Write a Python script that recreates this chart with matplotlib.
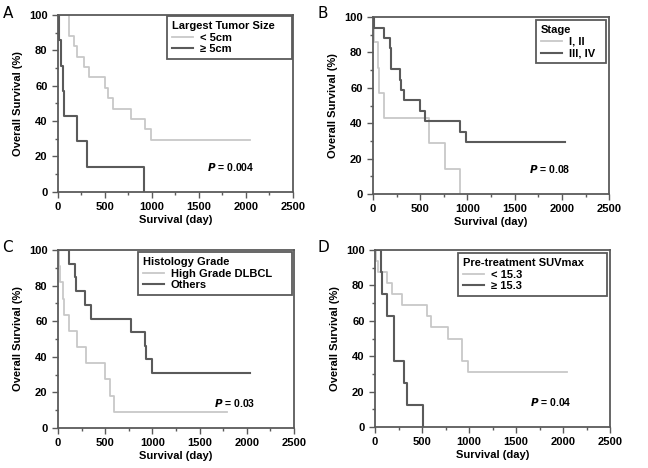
import matplotlib.pyplot as plt
from matplotlib.ticker import MultipleLocator

plt.rcParams['font.family'] = ['Liberation Sans', 'DejaVu Sans']
plt.rcParams['font.weight'] = 'bold'

LIGHT = '#c8c8c8'
DARK = '#5a5a5a'

# ----- panel A : largest tumor size
a_small_t = [0, 117, 170, 198, 276, 333, 503, 535, 588, 772, 924, 995, 2040]
a_small_s = [100, 88.2, 82.4, 76.5, 70.6, 64.7, 58.8, 52.9, 47.1, 41.2, 35.3, 29.4, 29.4]
a_big_t = [0, 14, 32, 53, 67, 198, 305, 917]
a_big_s = [100, 85.7, 71.4, 57.1, 42.9, 28.6, 14.3, 0]

# ----- panel B : stage
b_early_t = [0, 7, 50, 67, 120, 590, 760, 926]
b_early_s = [100, 85.7, 71.4, 57.1, 42.9, 28.6, 14.3, 0]
b_late_t = [0, 7, 113, 177, 195, 283, 297, 332, 502, 548, 916, 980, 2030]
b_late_s = [100, 94.1, 88.2, 82.4, 70.6, 64.7, 58.8, 52.9, 47.1, 41.2, 35.3, 29.4, 29.4]

# ----- panel C : histology grade
c_high_t = [0, 14, 25, 53, 67, 120, 197, 296, 500, 550, 592, 1790]
c_high_s = [100, 90.9, 81.8, 72.7, 63.6, 54.5, 45.5, 36.4, 27.3, 18.2, 9.1, 9.1]
c_oth_t = [0, 120, 176, 190, 286, 346, 772, 920, 927, 991, 2038]
c_oth_s = [100, 92.3, 84.6, 76.9, 69.2, 61.5, 53.8, 46.2, 38.5, 30.8, 30.8]

# ----- panel D : pre-treatment SUVmax
d_low_t = [0, 14, 32, 131, 185, 284, 557, 593, 778, 923, 990, 2042]
d_low_s = [100, 93.75, 87.5, 81.25, 75, 68.75, 62.5, 56.25, 50, 37.5, 31.25, 31.25]
d_high_t = [0, 60, 78, 124, 202, 309, 344, 508]
d_high_s = [100, 87.5, 75, 62.5, 37.5, 25, 12.5, 0]

# letter, axes rect, legend title, light series, dark series, p value,
# letter position, legend box (x0, x1, top) in axes coords
panels = [
    ('A', [0.0895, 0.590, 0.3625, 0.378], 'Largest Tumor Size',
     (a_small_t, a_small_s, '< 5cm'), (a_big_t, a_big_s, '\u2265 5cm'), '0.004',
     (0.004, 0.972), (0.464, 0.996, 0.994)),
    ('B', [0.5756, 0.5855, 0.3644, 0.378], 'Stage',
     (b_early_t, b_early_s, 'I, II'), (b_late_t, b_late_s, 'III, IV'), '0.08',
     (0.49, 0.972), (0.69, 0.987, 0.983)),
    ('C', [0.0895, 0.0855, 0.3642, 0.3803], 'Histology Grade',
     (c_high_t, c_high_s, 'High Grade DLBCL'), (c_oth_t, c_oth_s, 'Others'), '0.03',
     (0.004, 0.472), (0.339, 0.992, 0.989)),
    ('D', [0.5787, 0.0876, 0.3627, 0.3782], 'Pre-treatment SUVmax',
     (d_low_t, d_low_s, '< 15.3'), (d_high_t, d_high_s, '\u2265 15.3'), '0.04',
     (0.49, 0.472), (0.353, 0.987, 0.983)),
]

fig = plt.figure(figsize=(6.48, 4.68), dpi=100)

for letter, rect, title, light, dark, pval, lpos, lbox in panels:
    ax = fig.add_axes(rect)
    ax.step(light[0], light[1], where='post', color=LIGHT, lw=1.3, label=light[2])
    ax.step(dark[0], dark[1], where='post', color=DARK, lw=1.5, label=dark[2])
    ax.set_xlim(0, 2500)
    ax.set_ylim(0, 100)
    ax.xaxis.set_major_locator(MultipleLocator(500))
    ax.xaxis.set_minor_locator(MultipleLocator(250))
    ax.yaxis.set_major_locator(MultipleLocator(20))
    ax.yaxis.set_minor_locator(MultipleLocator(10))
    ax.tick_params(which='both', direction='out', color=DARK, width=1, labelsize=8)
    ax.tick_params(which='major', length=4)
    ax.tick_params(which='minor', length=2)
    for sp in ax.spines.values():
        sp.set_color(DARK)
        sp.set_linewidth(1.3)
    ax.set_xlabel('Survival (day)', fontsize=8, fontweight='bold', labelpad=2)
    ax.set_ylabel('Overall Survival (%)', fontsize=8, fontweight='bold', labelpad=4)
    x0, x1, top = lbox
    leg = ax.legend(title=title, loc='upper left', fontsize=8, handlelength=1.9,
                    bbox_to_anchor=(x0, top - 0.3, x1 - x0, 0.3), mode='expand',
                    title_fontproperties={'size': 8, 'weight': 'bold'},
                    alignment='left', fancybox=False, framealpha=1,
                    borderaxespad=0, borderpad=0.45, labelspacing=0.15,
                    handletextpad=0.6)
    leg.get_frame().set_edgecolor(DARK)
    leg.get_frame().set_linewidth(1.3)
    ax.text(2090, 14, r'$\bfit{P}$ = ' + pval, ha='right', va='center',
            fontsize=7.5, fontweight='bold')
    fig.text(lpos[0], lpos[1], letter, fontsize=11, fontweight='normal',
             family='DejaVu Sans', va='center')

fig.savefig('out.png')
